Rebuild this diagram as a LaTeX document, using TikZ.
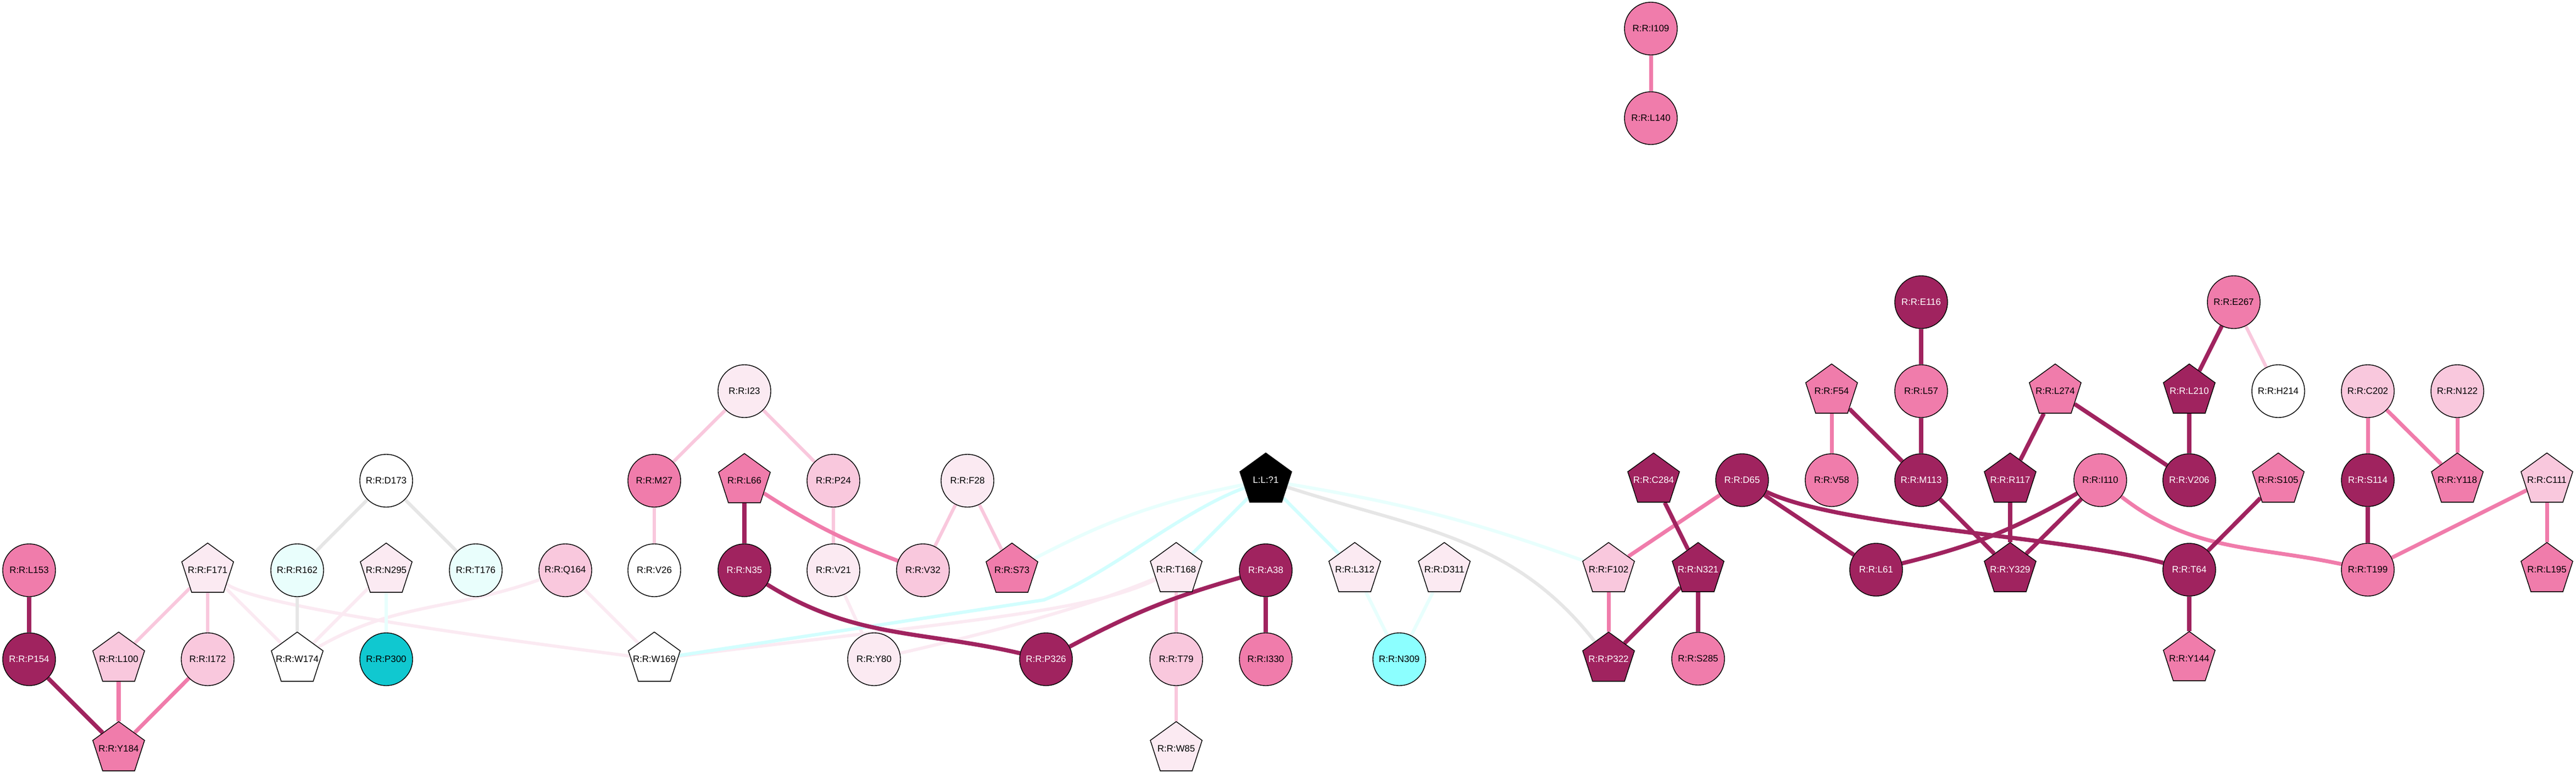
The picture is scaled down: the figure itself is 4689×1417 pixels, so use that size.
\documentclass[tikz,border=0pt]{standalone}
\usepackage{fontspec}
\setmainfont{Liberation Sans}
\usetikzlibrary{shapes.geometric}
\definecolor{cdk}{HTML}{A0235F}
\definecolor{cmd}{HTML}{F07CAB}
\definecolor{clt}{HTML}{F9C8DD}
\definecolor{cvl}{HTML}{FBEAF2}
\definecolor{ccy}{HTML}{E9FEFC}
\definecolor{cnn}{HTML}{8CFFFF}
\definecolor{cteal}{HTML}{10C8D0}
\definecolor{cgray}{HTML}{E6E6E6}
\definecolor{ecy}{HTML}{D2FEFE}
\definecolor{ecyl}{HTML}{E8FFFD}
\pgfdeclarelayer{bg}
\pgfdeclarelayer{edges}
\pgfsetlayers{bg,edges,main}
\newcommand\rl[1]{\makebox[0pt]{#1}}
\begin{document}
\begin{tikzpicture}[x=0.01cm,y=-0.01cm,
  base/.style={draw=black,line width=0.4pt,inner sep=0pt,font=\fontsize{4.8}{5}\selectfont},
  circ/.style={base,circle,minimum size=0.96cm},
  pent/.style={base,regular polygon,regular polygon sides=5,minimum size=0.99cm},
  fdk/.style={fill=cdk,text=white},
  fmd/.style={fill=cmd},
  flt/.style={fill=clt},
  fvl/.style={fill=cvl},
  fwh/.style={fill=white},
  fcy/.style={fill=ccy},
  fnn/.style={fill=cnn},
  fteal/.style={fill=cteal},
  fblk/.style={fill=black,text=white},
  edk/.style={draw=cdk,line width=0.075cm},
  emd/.style={draw=cmd,line width=0.07cm},
  elt/.style={draw=clt,line width=0.06cm},
  evl/.style={draw=cvl,line width=0.058cm},
  egr/.style={draw=cgray,line width=0.06cm},
  ecyan/.style={draw=ecy,line width=0.06cm},
  ecyanl/.style={draw=ecyl,line width=0.06cm}
]
\useasboundingbox (0,0) rectangle (4689,1417);
\begin{pgfonlayer}{bg}
\fill[white] (0,0) rectangle (4689,1417);
\end{pgfonlayer}

% row 0-1
\node[circ,fmd] (I109) at (3005,52) {\rl{R:R:I109}};
\node[circ,fmd] (L140) at (3005,215) {\rl{R:R:L140}};
% row 3
\node[circ,fdk] (E116) at (3497,550) {\rl{R:R:E116}};
\node[circ,fmd] (E267) at (4066,550) {\rl{R:R:E267}};
% row 4
\node[circ,fvl] (I23) at (1355,712) {\rl{R:R:I23}};
\node[pent,fmd] (F54) at (3334,712) {\rl{R:R:F54}};
\node[circ,fmd] (L57) at (3497,712) {\rl{R:R:L57}};
\node[pent,fmd] (L274) at (3741,712) {\rl{R:R:L274}};
\node[pent,fdk] (L210) at (3985,712) {\rl{R:R:L210}};
\node[circ,fwh] (H214) at (4147,712) {\rl{R:R:H214}};
\node[circ,flt] (C202) at (4310,712) {\rl{R:R:C202}};
\node[circ,flt] (N122) at (4473,712) {\rl{R:R:N122}};
% row 5
\node[circ,fwh] (D173) at (703,875) {\rl{R:R:D173}};
\node[circ,fmd] (M27) at (1191,875) {\rl{R:R:M27}};
\node[pent,fmd] (L66) at (1355,875) {\rl{R:R:L66}};
\node[circ,flt] (P24) at (1517,875) {\rl{R:R:P24}};
\node[circ,fvl] (F28) at (1761,875) {\rl{R:R:F28}};
\node[pent,fblk] (Lig) at (2304,874) {\rl{L:L:?1}};
\node[pent,fdk] (C284) at (3010,874) {\rl{R:R:C284}};
\node[circ,fdk] (D65) at (3171,874) {\rl{R:R:D65}};
\node[circ,fmd] (V58) at (3334,874) {\rl{R:R:V58}};
\node[circ,fdk] (M113) at (3497,874) {\rl{R:R:M113}};
\node[pent,fdk] (R117) at (3659,874) {\rl{R:R:R117}};
\node[circ,fmd] (I110) at (3823,874) {\rl{R:R:I110}};
\node[circ,fdk] (V206) at (3985,874) {\rl{R:R:V206}};
\node[pent,fmd] (S105) at (4147,874) {\rl{R:R:S105}};
\node[circ,fdk] (S114) at (4310,874) {\rl{R:R:S114}};
\node[pent,fmd] (Y118) at (4473,874) {\rl{R:R:Y118}};
\node[pent,flt] (C111) at (4636,874) {\rl{R:R:C111}};
% row 6
\node[circ,fmd] (L153) at (53,1038) {\rl{R:R:L153}};
\node[pent,fvl] (F171) at (378,1038) {\rl{R:R:F171}};
\node[circ,fcy] (R162) at (541,1038) {\rl{R:R:R162}};
\node[pent,fvl] (N295) at (703,1038) {\rl{R:R:N295}};
\node[circ,fcy] (T176) at (866,1038) {\rl{R:R:T176}};
\node[circ,flt] (Q164) at (1029,1038) {\rl{R:R:Q164}};
\node[circ,fwh] (V26) at (1191,1038) {\rl{R:R:V26}};
\node[circ,fdk] (N35) at (1355,1038) {\rl{R:R:N35}};
\node[circ,fvl] (V21) at (1517,1038) {\rl{R:R:V21}};
\node[circ,flt] (V32) at (1680,1038) {\rl{R:R:V32}};
\node[pent,fmd] (S73) at (1842,1038) {\rl{R:R:S73}};
\node[pent,fvl] (T168) at (2141,1037) {\rl{R:R:T168}};
\node[circ,fdk] (A38) at (2304,1038) {\rl{R:R:A38}};
\node[pent,fvl] (L312) at (2466,1037) {\rl{R:R:L312}};
\node[pent,fvl] (D311) at (2629,1037) {\rl{R:R:D311}};
\node[pent,flt] (F102) at (2928,1037) {\rl{R:R:F102}};
\node[pent,fdk] (N321) at (3091,1037) {\rl{R:R:N321}};
\node[circ,fdk] (L61) at (3415,1037) {\rl{R:R:L61}};
\node[pent,fdk] (Y329) at (3659,1037) {\rl{R:R:Y329}};
\node[circ,fdk] (T64) at (3985,1037) {\rl{R:R:T64}};
\node[circ,fmd] (T199) at (4310,1037) {\rl{R:R:T199}};
\node[pent,fmd] (L195) at (4636,1037) {\rl{R:R:L195}};
% row 7
\node[circ,fdk] (P154) at (53,1200) {\rl{R:R:P154}};
\node[pent,flt] (L100) at (216,1200) {\rl{R:R:L100}};
\node[circ,flt] (I172) at (378,1200) {\rl{R:R:I172}};
\node[pent,fwh] (W174) at (541,1200) {\rl{R:R:W174}};
\node[circ,fteal] (P300) at (703,1200) {\rl{R:R:P300}};
\node[pent,fwh] (W169) at (1191,1200) {\rl{R:R:W169}};
\node[circ,fvl] (Y80) at (1591,1200) {\rl{R:R:Y80}};
\node[circ,fdk] (P326) at (1904,1200) {\rl{R:R:P326}};
\node[circ,flt] (T79) at (2141,1200) {\rl{R:R:T79}};
\node[circ,fmd] (I330) at (2304,1200) {\rl{R:R:I330}};
\node[circ,fnn] (N309) at (2547,1200) {\rl{R:R:N309}};
\node[pent,fdk] (P322) at (2928,1200) {\rl{R:R:P322}};
\node[circ,fmd] (S285) at (3091,1199) {\rl{R:R:S285}};
\node[pent,fmd] (Y144) at (3985,1199) {\rl{R:R:Y144}};
% row 8
\node[pent,fmd] (Y184) at (216,1363) {\rl{R:R:Y184}};
\node[pent,fvl] (W85) at (2141,1363) {\rl{R:R:W85}};

\begin{pgfonlayer}{edges}
% very light / gray / cyan first
\draw[evl] (F171) -- (W174);
\draw[evl] (F171) .. controls (470,1105) and (900,1162) .. (W169);
\draw[evl] (N295) -- (W174);
\draw[evl] (Q164) to[out=-160,in=30] (W174);
\draw[evl] (Q164) -- (W169);
\draw[evl] (V21) -- (Y80);
\draw[evl] (W169) .. controls (1750,1130) and (1980,1115) .. (T168);
\draw[evl] (Y80) .. controls (1850,1140) and (1990,1100) .. (T168);
\draw[egr] (D173) -- (R162);
\draw[egr] (D173) -- (T176);
\draw[egr] (R162) -- (W174);
\draw[egr] (Lig) to[out=-18,in=128] (P322);
\draw[ecyan] (Lig) -- (T168);
\draw[ecyan] (Lig) -- (L312);
\draw[ecyan] (Lig) .. controls (2150,930) and (2020,1045) .. (1900,1092) -- (W169);
\draw[ecyanl] (Lig) to[bend right=8] (S73);
\draw[ecyanl] (Lig) to[bend left=5] (F102);
\draw[ecyanl] (L312) -- (N309);
\draw[ecyanl] (D311) -- (N309);
\draw[ecyanl] (N295) -- (P300);
% light pink
\draw[elt] (F171) -- (L100);
\draw[elt] (F171) -- (I172);
\draw[elt] (I23) -- (M27);
\draw[elt] (I23) -- (P24);
\draw[elt] (M27) -- (V26);
\draw[elt] (P24) -- (V21);
\draw[elt] (F28) -- (V32);
\draw[elt] (F28) -- (S73);
\draw[elt] (T168) -- (T79);
\draw[elt] (T79) -- (W85);
\draw[elt] (E267) -- (H214);
% medium pink
\draw[emd] (L100) -- (Y184);
\draw[emd] (I172) -- (Y184);
\draw[emd] (L66) to[bend right=6] (V32);
\draw[emd] (I109) -- (L140);
\draw[emd] (F54) -- (V58);
\draw[emd] (D65) -- (F102);
\draw[emd] (F102) -- (P322);
\draw[emd] (I110) to[out=-38,in=168] (T199);
\draw[emd] (C202) -- (S114);
\draw[emd] (C202) -- (Y118);
\draw[emd] (N122) -- (Y118);
\draw[emd] (C111) -- (T199);
\draw[emd] (C111) -- (L195);
% dark
\draw[edk] (L153) -- (P154);
\draw[edk] (P154) -- (Y184);
\draw[edk] (L66) -- (N35);
\draw[edk] (N35) to[out=-32,in=167] (P326);
\draw[edk] (P326) to[bend left=6] (A38);
\draw[edk] (A38) -- (I330);
\draw[edk] (E116) -- (L57);
\draw[edk] (L57) -- (M113);
\draw[edk] (F54) -- (M113);
\draw[edk] (L274) -- (R117);
\draw[edk] (L274) -- (V206);
\draw[edk] (L210) -- (V206);
\draw[edk] (E267) -- (L210);
\draw[edk] (C284) -- (N321);
\draw[edk] (N321) -- (P322);
\draw[edk] (N321) -- (S285);
\draw[edk] (D65) -- (L61);
\draw[edk] (D65) .. controls (3350,960) and (3750,975) .. (T64);
\draw[edk] (M113) -- (Y329);
\draw[edk] (R117) -- (Y329);
\draw[edk] (I110) to[bend left=8] (L61);
\draw[edk] (I110) -- (Y329);
\draw[edk] (S105) -- (T64);
\draw[edk] (S114) -- (T199);
\draw[edk] (T64) -- (Y144);
\end{pgfonlayer}
\end{tikzpicture}
\end{document}
